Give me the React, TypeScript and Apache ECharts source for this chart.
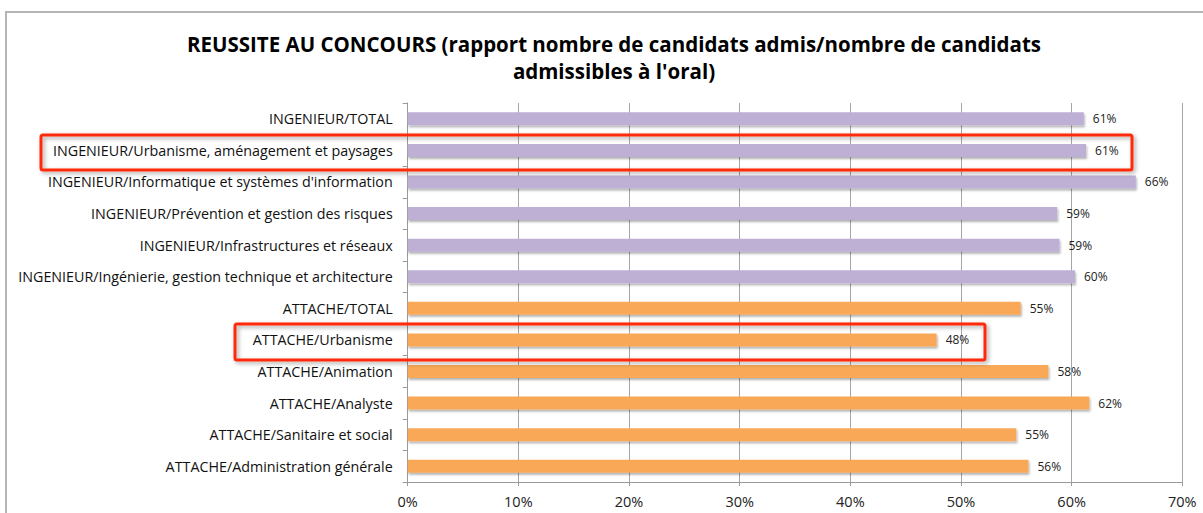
import React, { useEffect, useRef } from "react";
import * as echarts from "echarts";

const TITLE = "REUSSITE AU CONCOURS (rapport nombre de candidats admis/nombre de candidats\nadmissibles à l'oral)";

const categories = [
  "INGENIEUR/TOTAL",
  "INGENIEUR/Urbanisme, aménagement et paysages",
  "INGENIEUR/Informatique et systèmes d'information",
  "INGENIEUR/Prévention et gestion des risques",
  "INGENIEUR/Infrastructures et réseaux",
  "INGENIEUR/Ingénierie, gestion technique et architecture",
  "ATTACHE/TOTAL",
  "ATTACHE/Urbanisme",
  "ATTACHE/Animation",
  "ATTACHE/Analyste",
  "ATTACHE/Sanitaire et social",
  "ATTACHE/Administration générale",
];

const values = [61.1, 61.3, 65.8, 58.7, 58.9, 60.3, 55.4, 47.8, 57.9, 61.6, 55.0, 56.1];

const groups = ["ING", "ING", "ING", "ING", "ING", "ING", "ATT", "ATT", "ATT", "ATT", "ATT", "ATT"];

const xTicks = [0, 10, 20, 30, 40, 50, 60, 70];

const groupColors: Record<string, string> = { ING: "#BEB0D4", ATT: "#F9A858" };

export default function App() {
  const ref = useRef<HTMLDivElement>(null);
  useEffect(() => {
    if (!ref.current) return;
    const chart = echarts.init(ref.current, null, { renderer: "svg" });
    const font = "'Open Sans', Lato, sans-serif";
    chart.setOption({
      animation: false,
      backgroundColor: "#ffffff",
      title: {
        text: TITLE,
        left: 609,
        top: 25,
        textAlign: "center",
        textStyle: {
          fontFamily: font,
          fontWeight: "bold",
          fontSize: 20.5,
          lineHeight: 27,
          color: "#000",
        },
      },
      grid: { left: 407.7, right: 20.7, top: 103, bottom: 31 },
      xAxis: {
        type: "value",
        min: xTicks[0],
        max: xTicks[xTicks.length - 1],
        interval: 10,
        axisLine: { show: true, lineStyle: { color: "#9a9a9a", width: 1 } },
        axisTick: { show: true, length: 4, lineStyle: { color: "#9a9a9a" } },
        splitLine: { show: true, lineStyle: { color: "#a6a6a6", width: 1 } },
        axisLabel: {
          margin: 12,
          fontFamily: font,
          fontSize: 14.5,
          color: "#222",
          formatter: (v: number) => v + "%",
        },
      },
      yAxis: {
        type: "category",
        inverse: true,
        data: categories,
        axisLine: { show: true, lineStyle: { color: "#9a9a9a", width: 1 } },
        axisTick: { show: true, length: 5, lineStyle: { color: "#9a9a9a" } },
        axisLabel: {
          margin: 15,
          fontFamily: font,
          fontSize: 14.3,
          color: "#111",
        },
      },
      series: [
        {
          type: "bar",
          barWidth: 13,
          data: values.map((v, i) => ({
            value: v,
            itemStyle: {
              color: groupColors[groups[i]],
              shadowColor: "rgba(0,0,0,0.3)",
              shadowBlur: 2,
              shadowOffsetX: 1,
              shadowOffsetY: 2,
            },
          })),
          label: {
            show: true,
            position: "right",
            distance: 9,
            fontFamily: font,
            fontSize: 12,
            color: "#222",
            formatter: (p: any) => Math.round(p.value) + "%",
          },
        },
      ],
      graphic: [
        {
          type: "rect",
          silent: true,
          shape: { x: 6, y: 12, width: 1230, height: 530 },
          style: { fill: "none", stroke: "#b5b5b5", lineWidth: 2 },
          z: -10,
        },
        {
          type: "rect",
          silent: true,
          shape: { x: 41, y: 135, width: 1091, height: 35, r: 2 },
          style: {
            fill: "none",
            stroke: "#ff2a0a",
            lineWidth: 3,
            shadowColor: "rgba(0,0,0,0.35)",
            shadowBlur: 4,
            shadowOffsetX: 2,
            shadowOffsetY: 2,
          },
          z: 100,
        },
        {
          type: "rect",
          silent: true,
          shape: { x: 235, y: 324, width: 750, height: 36, r: 2 },
          style: {
            fill: "none",
            stroke: "#ff2a0a",
            lineWidth: 3,
            shadowColor: "rgba(0,0,0,0.35)",
            shadowBlur: 4,
            shadowOffsetX: 2,
            shadowOffsetY: 2,
          },
          z: 100,
        },
      ],
    });
    return () => chart.dispose();
  }, []);
  return (
    <div
      ref={ref}
      style={{ position: "fixed", left: 0, top: 0, width: 1203, height: 513 }}
    />
  );
}
